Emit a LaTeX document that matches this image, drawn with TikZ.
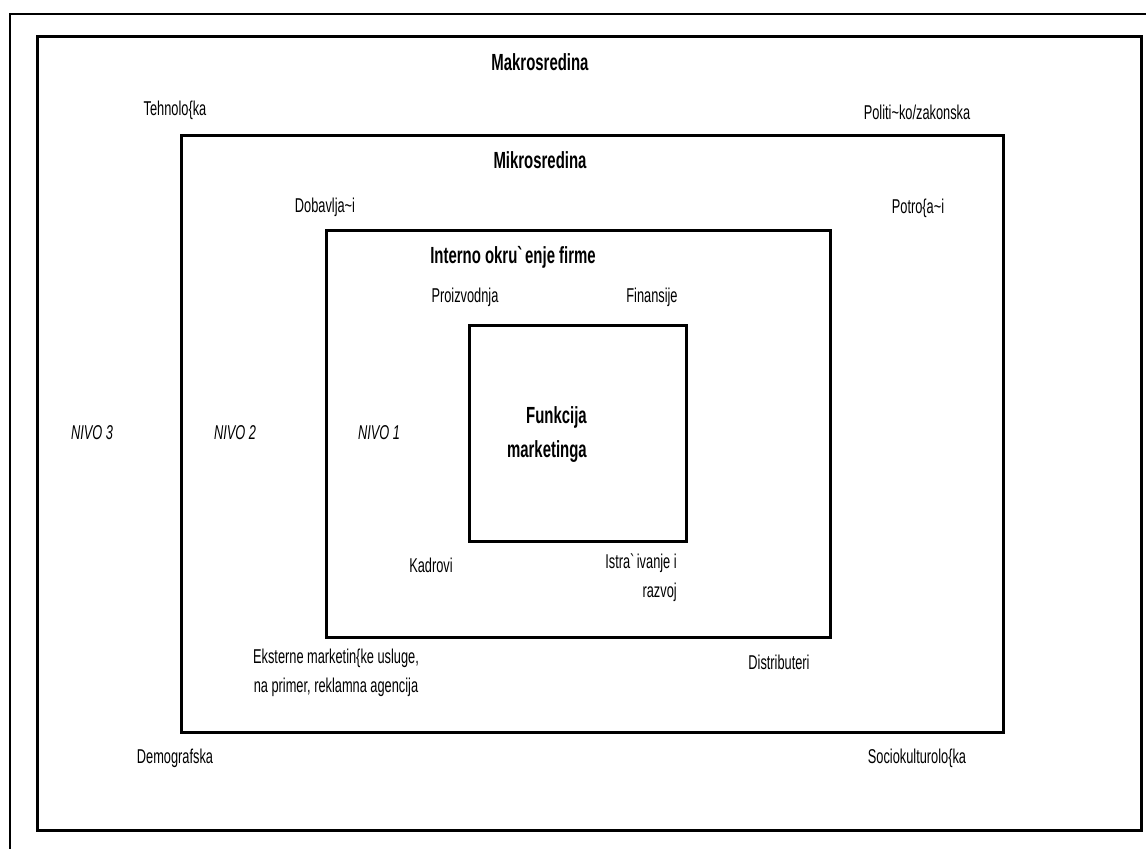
\documentclass[tikz,border=0pt]{standalone}
\usepackage{fontspec}
\setmainfont{Liberation Sans}[FakeStretch=0.64]
\usepackage{tikz}

\tikzset{
    label/.style={inner sep=0pt, font=\fontsize{15}{21.75}\selectfont},
    heading/.style={inner sep=0pt, font=\fontsize{17.5}{25.5}\selectfont\bfseries},
    level/.style={inner sep=0pt, font=\fontsize{15}{21.75}\selectfont\itshape},
    frame/.style={line width=2.25pt},
}

\begin{document}
\begin{tikzpicture}[x=0.75pt, y=-0.75pt]
    \useasboundingbox (0, 0) rectangle (1146, 849);
    % Page edge lines.
    \draw[line width=1.5pt] (10, 849) -- (10, 14) -- (1146, 14);
    % Nested environments, outside in.
    \draw[frame] (37, 37) rectangle (1141, 830);
    \draw[frame] (181, 135) rectangle (1003, 732);
    \draw[frame] (326, 230) rectangle (830, 637);
    \draw[frame] (469, 325) rectangle (686, 541);

    % Level 3: macro environment.
    \node[heading] (makro) at (540, 62) {Makrosredina};
    \node[label] (tehno) at (175, 110) {Tehnolo\{ka};
    \node[label] (polit) at (917, 112) {Politi\textasciitilde ko/zakonska};
    \node[label] (demo) at (175, 758) {Demografska};
    \node[label] (socio) at (917, 758) {Sociokulturolo\{ka};
    \node[level] (nivo3) at (92, 433) {NIVO 3};

    % Level 2: micro environment.
    \node[heading] (mikro) at (540, 160) {Mikrosredina};
    \node[label] (dobav) at (325, 207) {Dobavlja\textasciitilde i};
    \node[label] (potro) at (918, 208) {Potro\{a\textasciitilde i};
    \node[label, align=center] (ekst) at (336, 673)
        {Eksterne marketin\{ke usluge,\\ na primer, reklamna agencija};
    \node[label] (distr) at (779, 662) {Distributeri};
    \node[level] (nivo2) at (235, 433) {NIVO 2};

    % Level 1: internal environment.
    \node[heading] (interno) at (513, 257) {Interno okru\textasciigrave enje firme};
    \node[label] (proiz) at (465, 297) {Proizvodnja};
    \node[label] (finan) at (652, 297) {Finansije};
    \node[label] (kadr) at (431, 565) {Kadrovi};
    \node[label, align=right, anchor=east] (istr) at (677, 578)
        {Istra\textasciigrave ivanje i\\ razvoj};
    \node[level] (nivo1) at (379, 433) {NIVO 1};

    % Core.
    \node[heading, align=right, anchor=east] (funk) at (587, 435)
        {Funkcija\\ marketinga};
\end{tikzpicture}
\end{document}
